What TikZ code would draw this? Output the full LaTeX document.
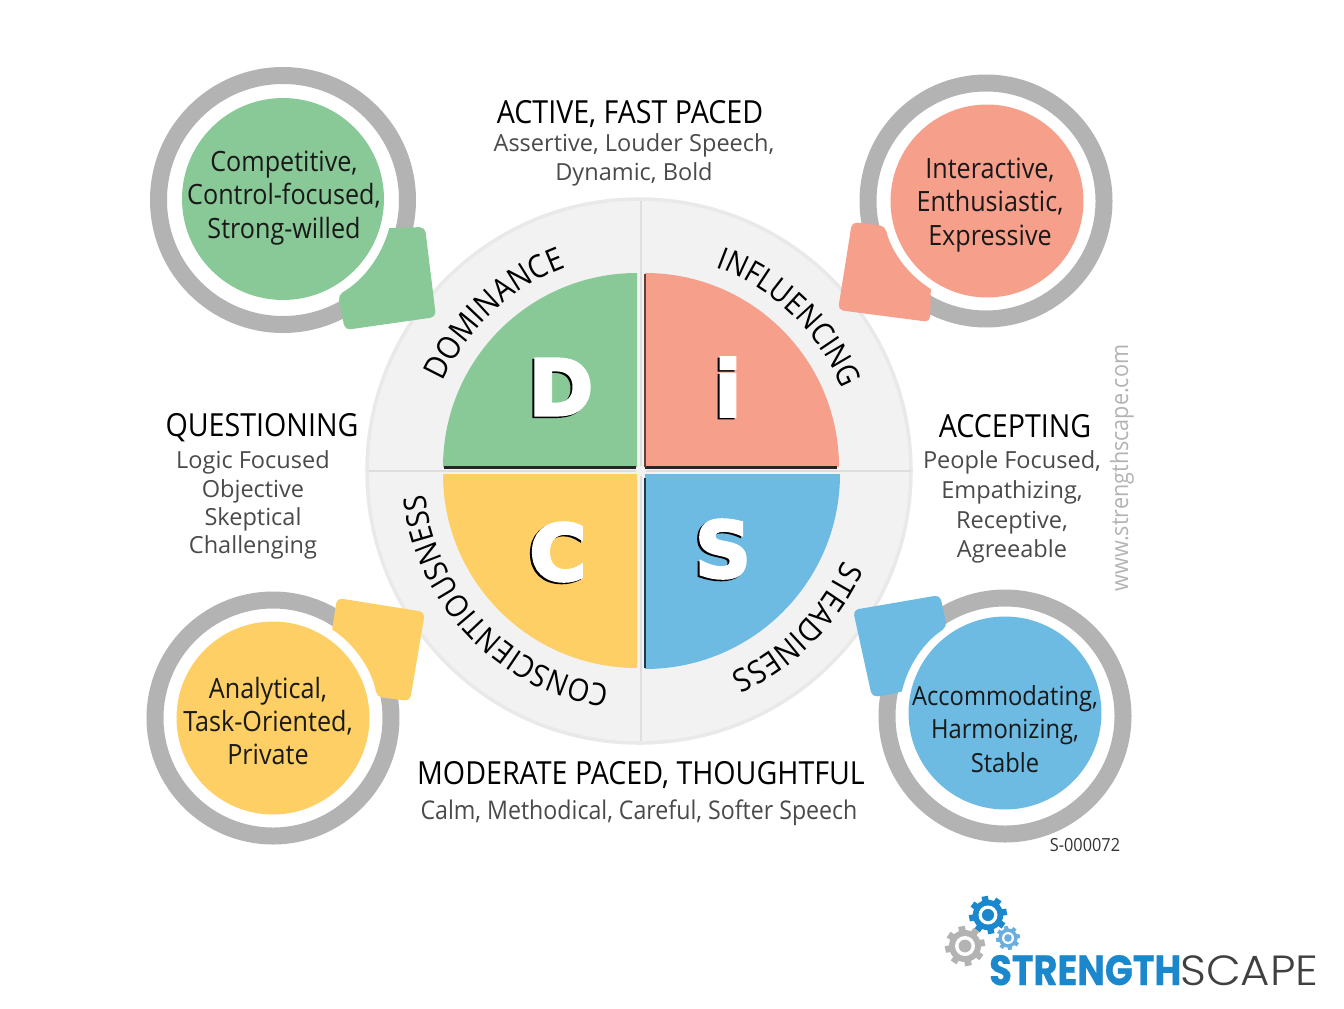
\documentclass[tikz,border=0pt]{standalone}
\usepackage{fontspec}
\setmainfont{Open Sans}[FakeStretch=0.9]
\newfontfamily\subfont{Open Sans}
\newfontfamily\discfont{DejaVu Sans}[BoldFeatures={FakeBold=4}]
\newfontfamily\logofont{Poppins}[BoldFeatures={FakeBold=0.6}]
\newfontfamily\logothin{Poppins}[UprightFont=* Light]
\usetikzlibrary{decorations.text, calc}
\definecolor{DiscGreen}{HTML}{89C997}
\definecolor{DiscSalmon}{HTML}{F69F8B}
\definecolor{DiscYellow}{HTML}{FDCF64}
\definecolor{DiscBlue}{HTML}{6DBBE3}
\definecolor{RingGray}{HTML}{B3B3B3}
\definecolor{PlateGray}{HTML}{F2F2F3}
\definecolor{RimGray}{HTML}{E9E9E9}
\definecolor{CrossGray}{HTML}{DEDEDE}
\definecolor{SubGray}{HTML}{4A4A4A}
\definecolor{LogoBlue}{HTML}{1B87CC}
\definecolor{LogoLight}{HTML}{6AAEE0}
\definecolor{LogoDark}{HTML}{404040}
\tikzset{
    % Circles and tabs
    ring/.style={draw=RingGray, line width=0.34cm},
    bubble/.style={circle, inner sep=0pt, minimum size=3.86cm},
    % Text styles
    heading/.style={font=\fontsize{18.1}{20}\selectfont, text=black},
    sublabel/.style={font=\subfont\fontsize{13.4}{16}\selectfont, text=SubGray, align=center},
    trait/.style={font=\fontsize{15.9}{19}\selectfont, text=black!90, align=center},
    letter/.style={font=\discfont\bfseries\fontsize{44}{44}\selectfont, inner sep=0pt},
    % Arc captions
    arcword/.style 2 args={decoration={text along path, text align=center,
        text={|\fontsize{#1}{20}\selectfont|#2}}, postaction={decorate}}
}
% Letter with its shadow
\newcommand{\discletter}[3]{
    \node[letter, text=black] (#1shadow) at ($(#2)+(-2,-1.5)$) {#3};
    \node[letter, text=white] (#1) at (#2) {#3};
}
% Logo gear: centre, outer radius, colour
\newcommand{\logogear}[3]{
    \fill[#3] (#1) circle[radius=0.8*#2];
    \foreach \a in {0,45,...,315}
        \fill[#3, shift={(#1)}, rotate=\a+10] (0.7*#2,-0.17*#2) rectangle (#2,0.17*#2);
    \fill[white] (#1) circle[radius=0.5*#2];
    \fill[#3] (#1) circle[radius=0.32*#2];
}
\begin{document}
\begin{tikzpicture}[x=0.02cm, y=0.02cm]
    \useasboundingbox (-641,-537) rectangle (703,471);

    % Plate behind the quadrants
    \fill[PlateGray, draw=RimGray, line width=2pt] (-2,0) circle[radius=272];
    \draw[CrossGray, line width=1pt] (0,270) -- (0,-270);
    \draw[CrossGray, line width=1pt] (-272,0) -- (270,0);
    \fill[PlateGray] (-5,-5) rectangle (5,5);

    % Quadrants
    \fill[DiscGreen] (-4,4) -- (-198,4) arc[start angle=180, end angle=90, radius=194] -- cycle;
    \fill[DiscSalmon] (4,4) -- (4,198) arc[start angle=90, end angle=0, radius=194] -- cycle;
    \fill[DiscYellow] (-4,-3) -- (-198,-3) arc[start angle=180, end angle=270, radius=194] -- cycle;
    \fill[DiscBlue] (4,-3) -- (199,-3) arc[start angle=0, end angle=-90, radius=195] -- cycle;
    \draw[black!85, line width=1.3pt] (-197,3.5) -- (-5,3.5);
    \draw[black!85, line width=1.3pt] (4,3.5) -- (196,3.5);
    \draw[black!60!DiscSalmon, line width=1.3pt] (4,4) -- (4,197);
    \draw[black!70!DiscBlue, line width=1.3pt] (4,-7) -- (4,-197);

    % Quadrant letters
    \discletter{letD}{-80,84}{D}
    \discletter{letI}{87,84}{i}
    \discletter{letC}{-83,-81}{C}
    \discletter{letS}{82,-78}{S}

    % Words on the plate
    \path[arcword={18.1}{DOMINANCE}] (213:217) arc[start angle=213, end angle=53, radius=217];
    \path[arcword={17.6}{INFLUENCING}] (126:217) arc[start angle=126, end angle=-34, radius=217];
    \path[arcword={18.1}{STEADINESS}] (35:221) arc[start angle=35, end angle=-125, radius=221];
    \path[arcword={17.7}{CONSCIENTIOUSNESS}] (-46:217) arc[start angle=-46, end angle=-226, radius=217];

    % Top left
    \draw[ring] (-358,271) circle[radius=124.5];
    \fill[DiscGreen] (-303,176) arc[start angle=-60, end angle=-15, radius=110]
        -- (-233,243.5) [rounded corners=3pt] -- (-216,244) -- (-205,154) -- (-296,141) -- cycle;
    \node[bubble, fill=DiscGreen, minimum size=4.04cm] (dombubble) at (-358,272) {};
    \node[trait] (domtext) at (-357,273) {Competitive,\\Control-focused,\\Strong-willed};

    % Top right
    \draw[ring] (345,270) circle[radius=118];
    \fill[DiscSalmon] (244,245) arc[start angle=194, end angle=238, radius=104]
        -- (289.5,165) [rounded corners=3pt] -- (289,149) -- (197,161) -- (211,249) -- cycle;
    \node[bubble, fill=DiscSalmon] (infbubble) at (346,270) {};
    \node[trait] (inftext) at (349,266) {Interactive,\\Enthusiastic,\\Expressive};

    % Bottom left
    \draw[ring] (-368,-247) circle[radius=118];
    \fill[DiscYellow] (-264,-226) arc[start angle=11, end angle=56, radius=106]
        -- (-306.5,-143) [rounded corners=3pt] -- (-304,-127) -- (-216,-141) -- (-231,-230) -- cycle;
    \node[bubble, fill=DiscYellow] (conbubble) at (-368,-247) {};
    \node[trait] (context) at (-373,-250) {Analytical,\\Task-Oriented,\\Private};

    % Bottom right
    \draw[ring] (364,-245) circle[radius=118];
    \fill[DiscBlue] (306,-156) arc[start angle=123, end angle=167, radius=105]
        -- (246,-224) [rounded corners=3pt] -- (231,-226) -- (212,-139) -- (299,-124) -- cycle;
    \node[bubble, fill=DiscBlue] (stebubble) at (364,-242) {};
    \node[trait, font=\fontsize{15}{19}\selectfont] (stetext) at (364,-258) {Accommodating,\\Harmonizing,\\Stable};

    % Side captions
    \node[heading] (tophead) at (-11,357) {ACTIVE, FAST PACED};
    \node[sublabel, font=\subfont\fontsize{13.4}{16.2}\selectfont] (toptext) at (-7,311) {Assertive, Louder Speech,\\Dynamic, Bold};
    \node[heading] (lefthead) at (-379,43) {QUESTIONING};
    \node[sublabel] (lefttext) at (-388,-34) {Logic Focused\\Objective\\Skeptical\\Challenging};
    \node[heading] (righthead) at (374,45) {ACCEPTING};
    \node[sublabel, font=\subfont\fontsize{13.4}{17}\selectfont] (righttext) at (371,-36) {People Focused,\\Empathizing,\\Receptive,\\Agreeable};
    \node[heading] (bottomhead) at (0,-304) {MODERATE PACED, THOUGHTFUL};
    \node[sublabel, font=\fontsize{14.65}{16}\selectfont] (bottomtext) at (-2,-342) {Calm, Methodical, Careful, Softer Speech};

    % Web address and reference number
    \node[rotate=90, text=RingGray, font=\fontsize{13.65}{15}\selectfont] (webtext) at (481,3) {www.strengthscape.com};
    \node[font=\fontsize{10.3}{11}\selectfont, text=black!80] (reftext) at (444,-374) {S-000072};

    % Logo
    \logogear{347,-444}{19}{LogoBlue}
    \logogear{367,-467}{12}{LogoLight}
    \logogear{324,-475}{20}{RingGray}
    \node[anchor=base west, inner sep=0pt, text=LogoBlue, xscale=0.87, font=\logofont\bfseries\fontsize{24}{26}\selectfont] (logobold) at (348,-514) {STRENGTH};
    \node[anchor=base west, inner sep=0pt, text=LogoDark, xscale=1.07, font=\logothin\fontsize{24}{26}\selectfont] (logolight) at (539,-514) {SCAPE};
\end{tikzpicture}
\end{document}
